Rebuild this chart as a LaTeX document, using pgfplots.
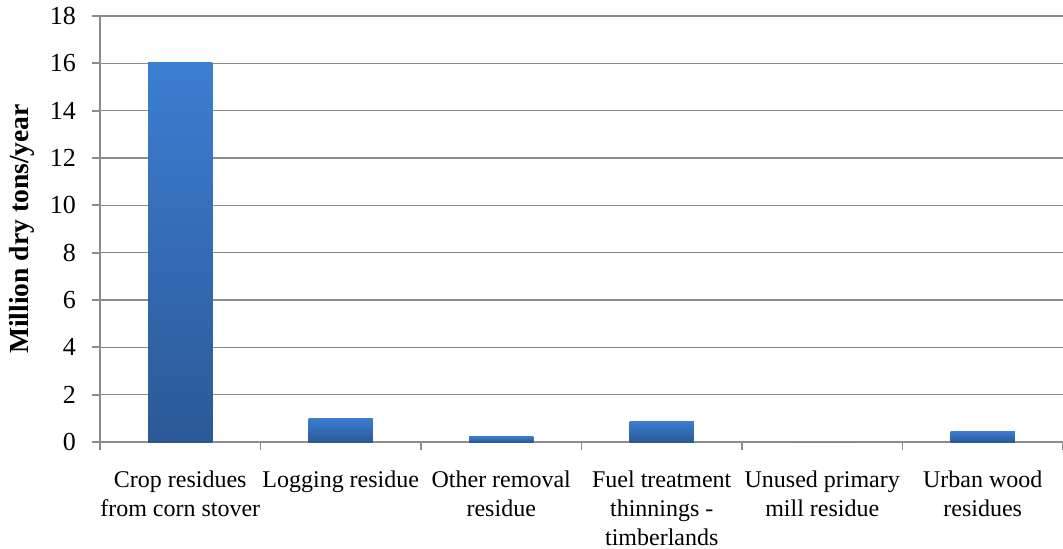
\documentclass[border=0pt]{standalone}
\usepackage{pgfplots}
\pgfplotsset{compat=1.18}
\usepackage{fontspec}
\setmainfont{Liberation Serif}
\definecolor{bartop}{RGB}{60,126,210}
\definecolor{barbot}{RGB}{43,89,150}
\definecolor{axgray}{RGB}{140,140,140}
\begin{document}
\begin{tikzpicture}
\useasboundingbox (-50pt,-53pt) rectangle (481.5pt,221pt);
\begin{axis}[
  at={(0,0)}, anchor=south west,
  scale only axis,
  width=481.5pt, height=213pt,
  xmin=-0.5, xmax=5.5, ymin=0, ymax=18,
  ytick={0,2,...,18},
  ymajorgrids,
  grid style={draw=axgray, line width=0.8pt},
  axis x line*=bottom, axis y line*=left,
  axis line style={draw=axgray, line width=0.9pt, -},
  xtick={0,...,5},
  xticklabels={{Crop residues\\from corn stover},{Logging residue},{Other removal\\residue},{Fuel treatment\\thinnings -\\timberlands},{Unused primary\\mill residue},{Urban wood\\residues}},
  minor xtick={-0.5,0.5,...,5.5},
  every major x tick/.append style={draw=none},
  every minor x tick/.append style={draw=axgray, line width=0.9pt},
  every major y tick/.append style={draw=axgray, line width=0.9pt},
  tick align=outside,
  major tick length=4pt,
  minor tick length=4pt,
  xticklabel style={align=center, font=\fontsize{12}{14.5}\selectfont, yshift=-7pt},
  yticklabel style={font=\fontsize{13}{15}\selectfont, xshift=-4.5pt},
  every axis y label/.style={at={(axis description cs:-0.0815,0.5)}, rotate=90, anchor=center},
  ylabel={\textbf{Million dry tons/year}},
  ylabel style={font=\fontsize{13.8}{16}\selectfont},
  /pgf/number format/assume math mode=true,
]
\addplot[ybar, bar width=0.4, draw=none, top color=bartop, bottom color=barbot] coordinates {(0,16.05)};
\addplot[ybar, bar width=0.4, draw=none, top color=bartop, bottom color=barbot] coordinates {(1,1.0)};
\addplot[ybar, bar width=0.4, draw=none, top color=bartop, bottom color=barbot] coordinates {(2,0.25)};
\addplot[ybar, bar width=0.4, draw=none, top color=bartop, bottom color=barbot] coordinates {(3,0.87)};
\addplot[ybar, bar width=0.4, draw=none, fill=barbot] coordinates {(4,0)};
\addplot[ybar, bar width=0.4, draw=none, top color=bartop, bottom color=barbot] coordinates {(5,0.46)};
\end{axis}
\end{tikzpicture}
\end{document}
